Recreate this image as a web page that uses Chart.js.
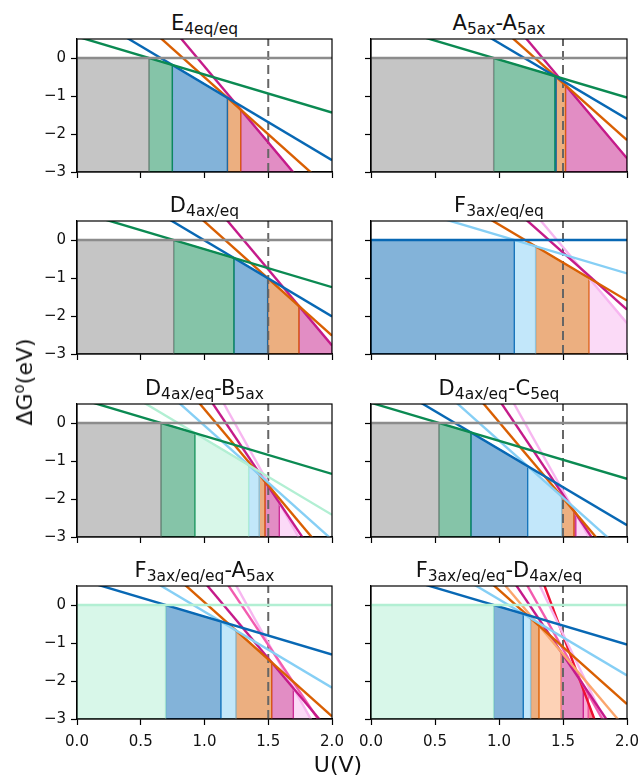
<!DOCTYPE html>
<html>
<head>
<meta charset="utf-8">
<script src="https://cdn.jsdelivr.net/npm/chart.js@4.4.1/dist/chart.umd.min.js"></script>
<style>
  body { margin: 0; background: #fff; }
  #fig { position: relative; width: 641px; height: 778px; font-family: 'DejaVu Sans', sans-serif; color: #111; overflow: hidden; }
  #fig canvas { position: absolute; }
  .title { position: absolute; text-align: center; font-size: 21px; line-height: 22px; white-space: nowrap; }
  .title sub { font-size: 15.5px; vertical-align: -4px; line-height: 0; }
  .lab { position: absolute; font-size: 22px; white-space: nowrap; line-height: 24px; }
  .lab sup { font-size: 15px; vertical-align: 8px; line-height: 0; }
</style>
</head>
<body>
<div id="fig"></div>
<script>
const xTicks = [0, 0.5, 1, 1.5, 2];
const yTicks = [-3, -2, -1, 0];
const xRange = [0, 2];
const yRange = [-3, 0.5];
const uMarker = 1.5;

// lines: [species, dG at U=0, dG at U=2]   regions: [species, U from, U to]
const titleE4 = ['E', '4eq/eq'];
const linesE4 = [['gray', 0, 0], ['green', 0.565, -1.435], ['blue', 1.313, -2.687], ['orange', 2.493, -3.507], ['magenta', 3.777, -4.223]];
const regionsE4 = [['gray', 0, 0.565], ['green', 0.565, 0.748], ['blue', 0.748, 1.18], ['orange', 1.18, 1.284], ['magenta', 1.284, 1.694]];

const titleA5 = ['A', '5ax', '-A', '5ax'];
const linesA5 = [['gray', 0, 0], ['green', 0.958, -1.042], ['blue', 2.395, -1.605], ['orange', 3.842, -2.158], ['magenta', 5.362, -2.638]];
const regionsA5 = [['gray', 0, 0.958], ['green', 0.958, 1.437], ['blue', 1.437, 1.447], ['orange', 1.447, 1.52], ['magenta', 1.52, 2]];

const titleD4 = ['D', '4ax/eq'];
const linesD4 = [['gray', 0, 0], ['green', 0.758, -1.242], ['blue', 1.989, -2.011], ['orange', 3.484, -2.516], ['magenta', 5.225, -2.775]];
const regionsD4 = [['gray', 0, 0.758], ['green', 0.758, 1.231], ['blue', 1.231, 1.495], ['orange', 1.495, 1.741], ['magenta', 1.741, 2]];

const titleF3 = ['F', '3ax/eq/eq'];
const linesF3 = [['blue', 0, 0], ['lightblue', 1.12, -0.88], ['orange', 2.406, -1.594], ['magenta', 4.17, -1.83], ['palepink', 5.812, -2.188]];
const regionsF3 = [['blue', 0, 1.12], ['lightblue', 1.12, 1.286], ['orange', 1.286, 1.703], ['palepink', 1.703, 2]];

const titleD4B5 = ['D', '4ax/eq', '-B', '5ax'];
const linesD4B5 = [['gray', 0, 0], ['green', 0.659, -1.341], ['mint', 1.584, -2.416], ['lightblue', 2.93, -3.07], ['orange', 4.36, -3.64], ['magenta', 5.835, -4.165], ['palepink', 7.42, -4.58]];
const regionsD4B5 = [['gray', 0, 0.659], ['green', 0.659, 0.925], ['mint', 0.925, 1.346], ['lightblue', 1.346, 1.43], ['orange', 1.43, 1.475], ['magenta', 1.475, 1.587], ['palepink', 1.587, 1.737]];

const titleD4C5 = ['D', '4ax/eq', '-C', '5eq'];
const linesD4C5 = [['gray', 0, 0], ['green', 0.531, -1.469], ['blue', 1.312, -2.688], ['lightblue', 2.536, -3.464], ['orange', 4.026, -3.974], ['magenta', 5.612, -4.388], ['palepink', 7.212, -4.788]];
const regionsD4C5 = [['gray', 0, 0.531], ['green', 0.531, 0.781], ['blue', 0.781, 1.224], ['lightblue', 1.224, 1.49], ['orange', 1.49, 1.586], ['magenta', 1.586, 1.6], ['palepink', 1.6, 1.702]];

const titleF3A5 = ['F', '3ax/eq/eq', '-A', '5ax'];
const linesF3A5 = [['mint', 0, 0], ['blue', 0.695, -1.305], ['lightblue', 1.824, -2.176], ['orange', 3.071, -2.929], ['magenta', 4.598, -3.402], ['hotpink', 6.45, -3.55], ['palepink', 8.0, -4.0]];
const regionsF3A5 = [['mint', 0, 0.695], ['blue', 0.695, 1.129], ['lightblue', 1.129, 1.247], ['orange', 1.247, 1.527], ['magenta', 1.527, 1.697], ['palepink', 1.697, 1.833]];

const titleF3D4 = ['F', '3ax/eq/eq', '-D', '4ax/eq'];
const linesF3D4 = [['mint', 0, 0], ['blue', 0.958, -1.042], ['lightblue', 2.148, -1.852], ['orange', 3.395, -2.605], ['peach', 4.708, -3.292], ['magenta', 6.19, -3.81], ['hotpink', 7.84, -4.16], ['palepink', 9.74, -4.26], ['red', 12.705, -5.295]];
const regionsF3D4 = [['mint', 0, 0.958], ['blue', 0.958, 1.19], ['lightblue', 1.19, 1.247], ['orange', 1.247, 1.3125], ['peach', 1.3125, 1.484], ['magenta', 1.484, 1.659], ['hotpink', 1.659, 1.698], ['red', 1.698, 1.745]];

const colors = {
  gray: '#8c8c8c', green: '#0b8a52', blue: '#0868b4', orange: '#d95f02', magenta: '#c51b8a',
  lightblue: '#86cff5', mint: '#b2efd3', palepink: '#f7b6f0', hotpink: '#f25caf', peach: '#fba66d', red: '#ee1133'
};

const panels = [
  [titleE4, linesE4, regionsE4], [titleA5, linesA5, regionsA5],
  [titleD4, linesD4, regionsD4], [titleF3, linesF3, regionsF3],
  [titleD4B5, linesD4B5, regionsD4B5], [titleD4C5, linesD4C5, regionsD4C5],
  [titleF3A5, linesF3A5, regionsF3A5], [titleF3D4, linesF3D4, regionsF3D4]
];

const colLeft = [77, 371], colWidth = [255, 256];
const rowTop = [39, 221, 404, 586], plotH = 133;
const padL = 60, padT = 5, padR = 22, padB = 45;

Chart.defaults.font.family = "'DejaVu Sans', sans-serif";
Chart.defaults.color = '#111';

const frame = {
  id: 'frame',
  afterDraw(chart) {
    const { ctx, chartArea: a } = chart;
    ctx.save();
    ctx.strokeStyle = '#000';
    ctx.lineWidth = 1.2;
    ctx.strokeRect(a.left, a.top, a.right - a.left, a.bottom - a.top);
    ctx.restore();
  }
};

const fig = document.getElementById('fig');

function lineAt(line, u) {
  return line[1] + (line[2] - line[1]) * (u - xRange[0]) / (xRange[1] - xRange[0]);
}

function minus(v) {
  return v < 0 ? '\u2212' + Math.abs(v) : String(v);
}

// keep the plot box fixed: no extra room for overhanging tick labels
function fixBox(s, size) {
  if (s.isHorizontal()) s.height = size; else s.width = size;
  s.paddingLeft = 0;
  s.paddingRight = 0;
  s.paddingTop = 0;
  s.paddingBottom = 0;
}

panels.forEach(([title, lines, regions], i) => {
  const col = i % 2, row = Math.floor(i / 2);
  const left = colLeft[col], top = rowTop[row], w = colWidth[col];
  const bottomRow = row === rowTop.length - 1;

  const t = document.createElement('div');
  t.className = 'title';
  t.style.left = left + 'px';
  t.style.width = w + 'px';
  t.style.top = (top - 27) + 'px';
  t.innerHTML = title.map((p, k) => k % 2 ? '<sub>' + p + '</sub>' : p).join('');
  fig.appendChild(t);

  const canvas = document.createElement('canvas');
  canvas.width = w + padL + padR;
  canvas.height = plotH + padT + padB;
  canvas.style.left = (left - padL) + 'px';
  canvas.style.top = (top - padT) + 'px';
  fig.appendChild(canvas);

  const datasets = [];
  regions.forEach(([name, u0, u1]) => {
    const line = lines.find(l => l[0] === name);
    datasets.push({
      data: [
        { x: u0, y: yRange[0] },
        { x: u0, y: Math.max(yRange[0], lineAt(line, u0)) },
        { x: u1, y: Math.max(yRange[0], lineAt(line, u1)) },
        { x: u1, y: yRange[0] }
      ],
      borderColor: colors[name] + 'dd',
      borderWidth: 1.3,
      backgroundColor: colors[name] + '80',
      fill: { value: yRange[0] },
      pointRadius: 0,
      order: 3
    });
  });
  datasets.push({
    data: [{ x: uMarker, y: yRange[0] }, { x: uMarker, y: yRange[1] }],
    borderColor: '#666',
    borderWidth: 2,
    borderDash: [9, 5],
    pointRadius: 0,
    fill: false,
    order: 2
  });
  lines.forEach(([name, y0, y2]) => {
    datasets.push({
      data: [{ x: xRange[0], y: y0 }, { x: xRange[1], y: y2 }],
      borderColor: colors[name],
      borderWidth: 2.4,
      pointRadius: 0,
      fill: false,
      order: 1
    });
  });

  new Chart(canvas, {
    type: 'line',
    data: { datasets },
    options: {
      animation: false,
      responsive: false,
      devicePixelRatio: 1,
      layout: { padding: { left: 0, top: padT, right: padR, bottom: 0 } },
      plugins: { legend: { display: false }, tooltip: { enabled: false }, title: { display: false } },
      scales: {
        x: {
          type: 'linear',
          min: xRange[0],
          max: xRange[1],
          afterBuildTicks: s => { s.ticks = xTicks.map(v => ({ value: v })); },
          afterFit: s => fixBox(s, padB),
          ticks: {
            autoSkip: false,
            maxRotation: 0,
            padding: 8,
            font: { size: 15 },
            color: '#111',
            callback: v => bottomRow ? v.toFixed(1) : ''
          },
          grid: { drawOnChartArea: false, tickLength: 6, tickColor: '#000', tickWidth: 1.2 },
          border: { color: '#000', width: 1.2 }
        },
        y: {
          type: 'linear',
          min: yRange[0],
          max: yRange[1],
          afterBuildTicks: s => { s.ticks = yTicks.map(v => ({ value: v })); },
          afterFit: s => fixBox(s, padL),
          ticks: {
            autoSkip: false,
            padding: 5,
            font: { size: 15 },
            color: '#111',
            callback: v => col === 0 ? minus(v) : ''
          },
          grid: { drawOnChartArea: false, tickLength: 6, tickColor: '#000', tickWidth: 1.2 },
          border: { color: '#000', width: 1.2 }
        }
      }
    },
    plugins: [frame]
  });
});

const ylab = document.createElement('div');
ylab.className = 'lab';
ylab.style.left = '25px';
ylab.style.top = '382px';
ylab.style.transform = 'translate(-50%, -50%) rotate(-90deg)';
ylab.innerHTML = '\u0394G<sup>o</sup>(eV)';
fig.appendChild(ylab);

const xlab = document.createElement('div');
xlab.className = 'lab';
xlab.style.left = '338px';
xlab.style.top = '765px';
xlab.style.transform = 'translate(-50%, -50%)';
xlab.textContent = 'U(V)';
fig.appendChild(xlab);
</script>
</body>
</html>
